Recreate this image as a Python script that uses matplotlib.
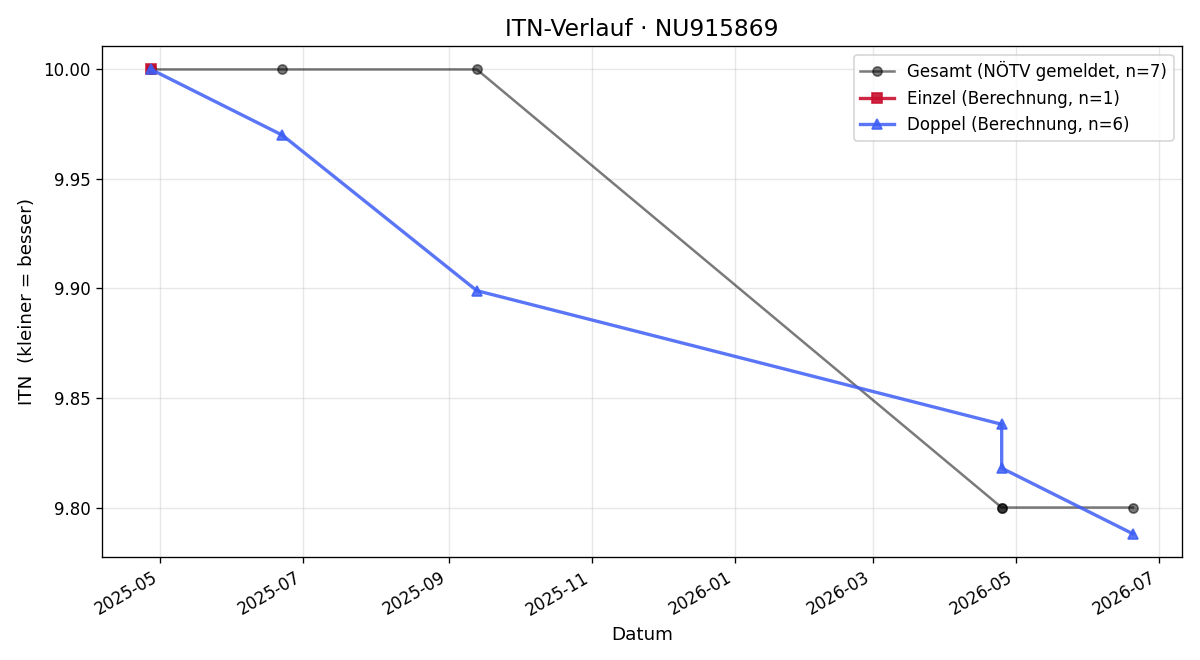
import matplotlib
matplotlib.use("Agg")
import matplotlib.pyplot as plt
import matplotlib.dates as mdates
import pandas as pd

gesamt_dates = ["2025-04-27", "2025-04-27", "2025-06-22", "2025-09-13", "2026-04-25", "2026-04-25", "2026-06-20"]
gesamt_vals = [10.0, 10.0, 10.0, 10.0, 9.8, 9.8, 9.8]

einzel_dates = ["2025-04-27"]
einzel_vals = [10.0]

doppel_dates = ["2025-04-27", "2025-06-22", "2025-09-13", "2026-04-25", "2026-04-25", "2026-06-20"]
doppel_vals = [10.0, 9.97, 9.899, 9.838, 9.818, 9.788]

fig, ax = plt.subplots(figsize=(10, 5.5), dpi=120)
ax.plot(pd.to_datetime(gesamt_dates), gesamt_vals, color="black", alpha=0.52, marker="o",
        markersize=5.5, linewidth=1.5, label="Gesamt (NÖTV gemeldet, n=7)")
ax.plot(pd.to_datetime(einzel_dates), einzel_vals, color="#c8102e", alpha=0.9, marker="s",
        markersize=6.5, linewidth=2, label="Einzel (Berechnung, n=1)")
ax.plot(pd.to_datetime(doppel_dates), doppel_vals, color="#3d5ef5", alpha=0.85, marker="^",
        markersize=6.5, linewidth=2, label="Doppel (Berechnung, n=6)")

ax.set_title("ITN-Verlauf · NU915869", fontsize=14)
ax.set_xlabel("Datum", fontsize=11)
ax.set_ylabel("ITN  (kleiner = besser)", fontsize=11)
ax.grid(True, alpha=0.3)
ax.xaxis.set_major_locator(mdates.MonthLocator(bymonth=[1, 3, 5, 7, 9, 11]))
ax.xaxis.set_major_formatter(mdates.DateFormatter("%Y-%m"))
ax.yaxis.set_major_formatter(matplotlib.ticker.FormatStrFormatter("%.2f"))
ax.legend(loc="upper right", fontsize=10)
fig.autofmt_xdate()
fig.subplots_adjust(left=0.085, right=0.985, top=0.93, bottom=0.156)
fig.savefig("out.png", dpi=120)
